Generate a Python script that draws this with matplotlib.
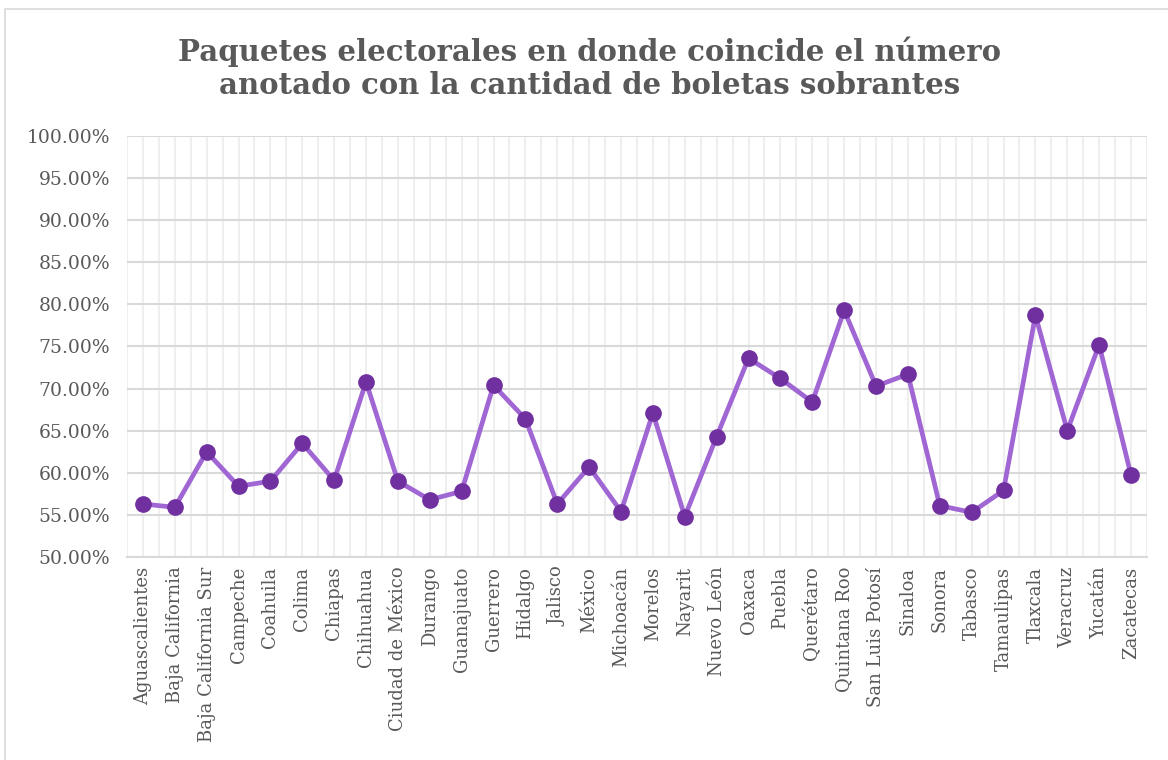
import matplotlib.pyplot as plt
from matplotlib.patches import Rectangle
from matplotlib.ticker import MultipleLocator, FuncFormatter

# Datos del gráfico
estados = [
    "Aguascalientes", "Baja California", "Baja California Sur", "Campeche",
    "Coahuila", "Colima", "Chiapas", "Chihuahua", "Ciudad de México",
    "Durango", "Guanajuato", "Guerrero", "Hidalgo", "Jalisco", "México",
    "Michoacán", "Morelos", "Nayarit", "Nuevo León", "Oaxaca", "Puebla",
    "Querétaro", "Quintana Roo", "San Luis Potosí", "Sinaloa", "Sonora",
    "Tabasco", "Tamaulipas", "Tlaxcala", "Veracruz", "Yucatán", "Zacatecas",
]
porcentajes = [
    56.3, 55.9, 62.5, 58.4, 59.0, 63.5, 59.1, 70.8, 59.0, 56.8, 57.8,
    70.4, 66.4, 56.3, 60.7, 55.4, 67.1, 54.8, 64.3, 73.6, 71.2, 68.4,
    79.3, 70.3, 71.7, 56.1, 55.3, 57.9, 78.7, 65.0, 75.2, 59.7,
]
titulo = ("Paquetes electorales en donde coincide el número\n"
          "anotado con la cantidad de boletas sobrantes")

gris_texto = "#595959"
plt.rcParams["font.family"] = ["DejaVu Serif"]

fig = plt.figure(figsize=(11.68, 7.6), dpi=100)
ax = fig.add_axes([0.1087, 0.2671, 0.8733, 0.554])

# Marco del área del gráfico
fig.patches.append(Rectangle((5 / 1168, -0.05), 1.1, 1 - 9 / 760 + 0.05,
                             transform=fig.transFigure, fill=False,
                             edgecolor="#D9D9D9", linewidth=1.2))

x = list(range(len(estados)))
ax.plot(x, porcentajes, color="#A066D3", linewidth=3.4, zorder=3)
ax.plot(x, porcentajes, linestyle="none", marker="o", markersize=11,
        color="#7030A0", zorder=4)

ax.set_xlim(-0.5, len(estados) - 0.5)
ax.set_ylim(50, 100)
ax.yaxis.set_major_locator(MultipleLocator(5))
ax.yaxis.set_major_formatter(FuncFormatter(lambda v, p: f"{v:.2f}%"))

# Rejilla vertical en cada categoría y entre categorías
for xv in [i * 0.5 - 0.5 for i in range(2 * len(estados) + 1)]:
    ax.axvline(xv, color="#EFEFEF", linewidth=1.5, zorder=1)
ax.grid(axis="y", color="#D9D9D9", linewidth=1.5, zorder=2)

ax.set_xticks(x)
ax.set_xticklabels(estados, rotation=90, fontsize=13, color=gris_texto)
ax.tick_params(axis="y", labelsize=13.5, labelcolor=gris_texto, length=0, pad=12)
ax.tick_params(axis="x", length=0, pad=7)

for lado in ["top", "right", "left"]:
    ax.spines[lado].set_visible(False)
ax.spines["bottom"].set_color("#D9D9D9")
ax.spines["bottom"].set_linewidth(1.5)

fig.text(0.505, 0.91, titulo, ha="center", va="center", fontsize=21,
         fontweight="bold", color=gris_texto, linespacing=1.2)

fig.savefig("out.png", dpi=100)
